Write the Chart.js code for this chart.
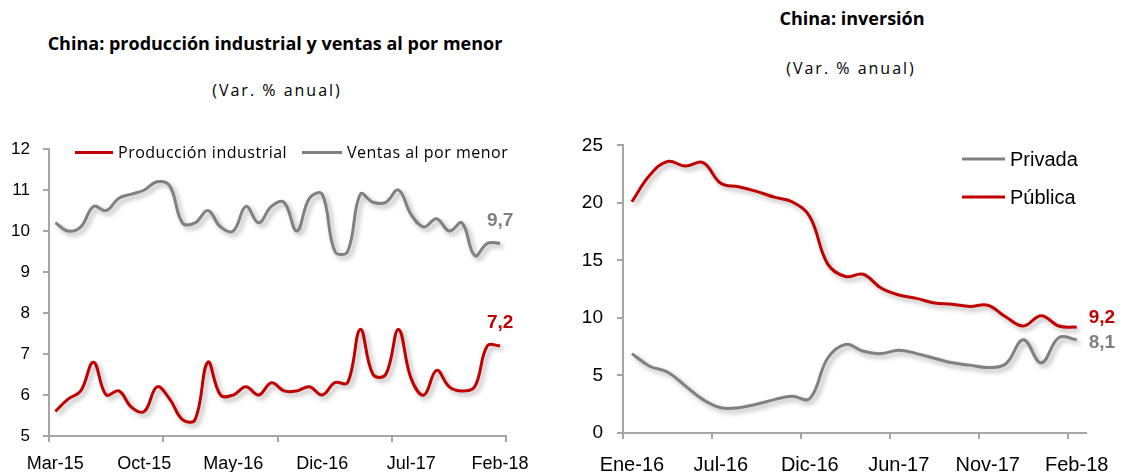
<!DOCTYPE html>
<html><head><meta charset="utf-8">
<script src="https://cdn.jsdelivr.net/npm/chart.js@4.4.1/dist/chart.umd.min.js"></script>
<style>
body{margin:0;width:1123px;height:472px;background:#fff;position:relative;overflow:hidden;font-family:"Open Sans",Lato,sans-serif;}
canvas{position:absolute;}
.t{position:absolute;transform:translate(-50%,-50%);white-space:nowrap;color:#000;z-index:2;}
.lg{position:absolute;transform:translateY(-50%);display:flex;align-items:center;white-space:nowrap;color:#000;z-index:2;}
.lg span.l{display:inline-block;height:3px;margin-right:5px;}
</style></head><body>
<canvas id="c1" width="540" height="352" style="left:0;top:120px"></canvas>
<canvas id="c2" width="578" height="352" style="left:545px;top:120px"></canvas>

<div class="t" style="left:275px;top:43px;font-weight:700;font-size:18px">China: producción industrial y ventas al por menor</div>
<div class="t" style="left:277px;top:90px;font-size:16px;letter-spacing:2px">(Var. % anual)</div>
<div class="t" style="left:852px;top:18px;font-weight:700;font-size:18px">China: inversión</div>
<div class="t" style="left:851px;top:68px;font-size:16px;letter-spacing:2px">(Var. % anual)</div>

<div class="lg" style="left:75px;top:152px;font-size:16px;letter-spacing:0.5px"><span class="l" style="width:38px;background:#C00000"></span>Producción industrial</div>
<div class="lg" style="left:302px;top:152px;font-size:16px;letter-spacing:0.5px"><span class="l" style="width:40px;background:#808080"></span>Ventas al por menor</div>
<div class="lg" style="left:962px;top:159px;font-size:20px;font-family:'Liberation Sans',Arial,sans-serif"><span class="l" style="width:43px;background:#808080"></span>Privada</div>
<div class="lg" style="left:962px;top:197px;font-size:20px;font-family:'Liberation Sans',Arial,sans-serif"><span class="l" style="width:43px;background:#C00000"></span>Pública</div>

<script>
// ---- Data: left chart ----
const ipCats = ['Mar-15','Abr-15','May-15','Jun-15','Jul-15','Ago-15','Sep-15','Oct-15','Nov-15','Dic-15',
  'Ene-16','Feb-16','Mar-16','Abr-16','May-16','Jun-16','Jul-16','Ago-16','Sep-16','Oct-16','Nov-16','Dic-16',
  'Ene-17','Feb-17','Mar-17','Abr-17','May-17','Jun-17','Jul-17','Ago-17','Sep-17','Oct-17','Nov-17','Dic-17',
  'Ene-18','Feb-18'];
const produccionIndustrial = [5.6,5.9,6.1,6.8,6.0,6.1,5.7,5.6,6.2,5.9,5.4,5.4,6.8,6.0,6.0,6.2,6.0,6.3,6.1,6.1,
  6.2,6.0,6.3,6.3,7.6,6.5,6.5,7.6,6.4,6.0,6.6,6.2,6.1,6.2,7.2,7.2];
const ventasMenor = [10.2,10.0,10.1,10.6,10.5,10.8,10.9,11.0,11.2,11.1,10.2,10.2,10.5,10.1,10.0,10.6,10.2,10.6,
  10.7,10.0,10.8,10.9,9.5,9.5,10.9,10.7,10.7,11.0,10.4,10.1,10.3,10.0,10.2,9.4,9.7,9.7];
const leftYTicks = [5,6,7,8,9,10,11,12];

// ---- Data: right chart ----
const invCats = ['Ene-16','','','','','Jul-16','','','','','Dic-16','','','','','Jun-17','','','','','Nov-17','','','','','Feb-18'];
const privada = [6.9,5.8,5.3,4.1,2.9,2.2,2.2,2.5,2.9,3.2,3.0,6.5,7.7,7.1,6.9,7.2,6.9,6.5,6.1,5.9,5.7,6.0,8.1,6.1,8.3,8.1];
const publica = [20.1,22.4,23.6,23.2,23.5,21.7,21.4,21.0,20.5,20.1,18.8,14.7,13.6,13.8,12.6,12.0,11.7,11.3,11.2,11.0,11.1,10.1,9.3,10.2,9.3,9.2];
const rightYTicks = [0,5,10,15,20,25];

const RED = '#C00000', GRAY = '#808080', AX = '#A6A6A6';
const FONT = '"Liberation Sans", Arial, sans-serif';

const shadow = {
  id:'shadow',
  beforeDatasetsDraw(chart){const c=chart.ctx;c.save();c.shadowColor='rgba(0,0,0,0.32)';c.shadowBlur=5;c.shadowOffsetX=3;c.shadowOffsetY=3;},
  afterDatasetsDraw(chart){chart.ctx.restore();}
};
const endLabels = {
  id:'endLabels',
  afterDatasetsDraw(chart, args, opts){
    const ctx = chart.ctx;
    (opts.items||[]).forEach(it=>{
      const data = chart.data.datasets[it.ds].data;
      const last = data.length-1;
      const x = chart.scales.x.getPixelForValue(last);
      const y = chart.scales.y.getPixelForValue(data[last]);
      ctx.save();
      ctx.font = 'bold 19px ' + FONT;
      ctx.fillStyle = it.color; ctx.textAlign = it.align; ctx.textBaseline = 'middle';
      ctx.fillText(data[last].toFixed(1).replace('.', ','), x + it.dx, y + it.dy);
      ctx.restore();
    });
  }
};

function xAxis(cats, labelEvery, tickEvery, fontSize, pad, h){
  const n = cats.length;
  return {
    type:'category', offset:true,
    grid:{display:true, offset:true, drawOnChartArea:false, drawTicks:true, tickLength:6, lineWidth:2,
      color: c => (((c.index ?? n) % tickEvery) === 0) ? AX : 'rgba(0,0,0,0)'},
    border:{display:true, color:AX, width:2},
    ticks:{autoSkip:false, maxRotation:0, minRotation:0, padding:pad, color:'#000',
      font:{family:FONT, size:fontSize}, callback:(v,i)=> (i % labelEvery === 0) ? cats[i] : ''},
    afterFit: s => { s.height = h; }
  };
}
function yAxis(min, max, step, fontSize, pad, w){
  return {
    min, max,
    grid:{display:true, drawOnChartArea:false, drawTicks:true, tickLength:6, lineWidth:2, color:AX},
    border:{display:true, color:AX, width:2},
    ticks:{stepSize:step, padding:pad, color:'#000', font:{family:FONT, size:fontSize}},
    afterFit: s => { s.width = w; }
  };
}

new Chart(document.getElementById('c1'), {
  type:'line',
  data:{labels:ipCats, datasets:[
    {label:'Producción industrial', data:produccionIndustrial, borderColor:RED, borderWidth:3, pointRadius:0, tension:0.4, fill:false},
    {label:'Ventas al por menor', data:ventasMenor, borderColor:GRAY, borderWidth:3, pointRadius:0, tension:0.4, fill:false}
  ]},
  options:{
    responsive:false, devicePixelRatio:1, animation:false,
    layout:{padding:{left:0,right:28,top:29,bottom:0}},
    plugins:{legend:{display:false}, tooltip:{enabled:false},
      endLabels:{items:[{ds:1,color:GRAY,align:'center',dx:0,dy:-23},{ds:0,color:RED,align:'center',dx:0,dy:-23}]}},
    scales:{
      x: xAxis(ipCats, 7, 9, 18, 11, 36),
      y: yAxis(leftYTicks[0], leftYTicks[leftYTicks.length-1], 1, 17, 13, 49)
    }
  },
  plugins:[shadow, endLabels]
});

new Chart(document.getElementById('c2'), {
  type:'line',
  data:{labels:invCats, datasets:[
    {label:'Privada', data:privada, borderColor:GRAY, borderWidth:3, pointRadius:0, tension:0.4, fill:false},
    {label:'Pública', data:publica, borderColor:RED, borderWidth:3, pointRadius:0, tension:0.4, fill:false}
  ]},
  options:{
    responsive:false, devicePixelRatio:1, animation:false,
    layout:{padding:{left:0,right:31,top:25,bottom:0}},
    plugins:{legend:{display:false}, tooltip:{enabled:false},
      endLabels:{items:[{ds:1,color:RED,align:'left',dx:12,dy:-9},{ds:0,color:GRAY,align:'left',dx:12,dy:3}]}},
    scales:{
      x: xAxis(invCats, 5, 5, 20, 14, 39),
      y: yAxis(rightYTicks[0], rightYTicks[rightYTicks.length-1], 5, 19, 14, 78)
    }
  },
  plugins:[shadow, endLabels]
});
</script>
</body></html>
